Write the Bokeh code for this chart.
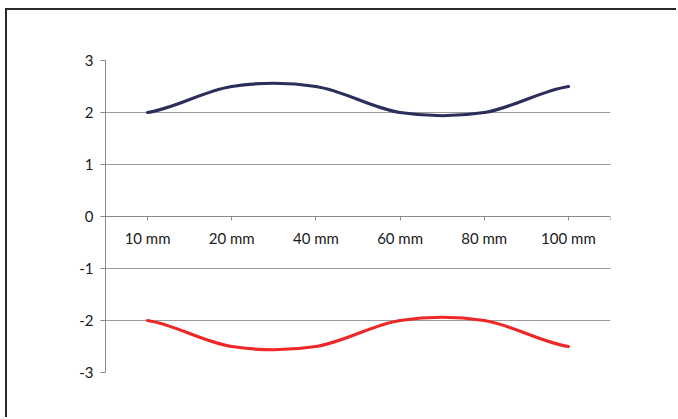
from bokeh.plotting import figure
from bokeh.models import Range1d, FixedTicker
from bokeh.embed import file_html
from bokeh.resources import INLINE

categories = ["10 mm", "20 mm", "40 mm", "60 mm", "80 mm", "100 mm"]
series_top = [2.0, 2.5, 2.5, 2.0, 2.0, 2.5]
series_bottom = [-2.0, -2.5, -2.5, -2.0, -2.0, -2.5]
y_ticks = [-3, -2, -1, 0, 1, 2, 3]
y_tick_labels = ["-3", "-2", "-1", "0", "1", "2", "3"]

FONT = "Lato"

p = figure(width=671, height=409, output_backend="svg", toolbar_location=None,
           x_range=Range1d(-0.5, len(categories) - 0.5), y_range=Range1d(-3, 3),
           min_border_left=98, min_border_right=68, min_border_top=50, min_border_bottom=47,
           outline_line_color=None, background_fill_color="white",
           styles={"border-left": "2px solid #2a2a2a", "border-top": "2px solid #2a2a2a",
                   "margin-left": "5px", "margin-top": "8px"})


def bezier_segments(ys):
    n = len(ys)
    m = []
    for i in range(n):
        a = ys[max(i - 1, 0)]
        b = ys[min(i + 1, n - 1)]
        m.append((b - a) / 2.0)
    x0, y0, x1, y1, cx0, cy0, cx1, cy1 = [], [], [], [], [], [], [], []
    for i in range(n - 1):
        x0.append(i); y0.append(ys[i])
        x1.append(i + 1); y1.append(ys[i + 1])
        cx0.append(i + 1 / 3); cy0.append(ys[i] + m[i] / 3)
        cx1.append(i + 1 - 1 / 3); cy1.append(ys[i + 1] - m[i + 1] / 3)
    return dict(x0=x0, y0=y0, x1=x1, y1=y1, cx0=cx0, cy0=cy0, cx1=cx1, cy1=cy1)


for ys, col in [(series_top, "#2b2d5b"), (series_bottom, "#ee2727")]:
    p.bezier(line_color=col, line_width=3.2, line_cap="round", **bezier_segments(ys))

# axes
p.xaxis.fixed_location = 0
p.xaxis.ticker = FixedTicker(ticks=list(range(len(categories))) + [len(categories) - 0.5])
p.xaxis.major_label_overrides = {**{i: c for i, c in enumerate(categories)}, len(categories) - 0.5: ""}
p.xaxis.minor_tick_line_color = None
p.xaxis.axis_line_color = "#8a8a8a"
p.xaxis.major_tick_line_color = "#8a8a8a"
p.xaxis.major_tick_in = 0
p.xaxis.major_tick_out = 4
p.xaxis.major_label_standoff = 8
p.xaxis.major_label_text_font = FONT
p.xaxis.major_label_text_font_size = "15px"
p.xaxis.major_label_text_color = "#1a1a1a"

p.yaxis.ticker = FixedTicker(ticks=y_ticks)
p.yaxis.major_label_overrides = {t: s for t, s in zip(y_ticks, y_tick_labels)}
p.yaxis.minor_tick_line_color = None
p.yaxis.axis_line_color = "#8a8a8a"
p.yaxis.major_tick_line_color = "#8a8a8a"
p.yaxis.major_tick_in = 0
p.yaxis.major_tick_out = 5
p.yaxis.major_label_standoff = 7
p.yaxis.major_label_text_font = FONT
p.yaxis.major_label_text_font_size = "15px"
p.yaxis.major_label_text_color = "#1a1a1a"

p.xgrid.visible = False
p.ygrid.ticker = FixedTicker(ticks=[t for t in y_ticks if t != 0])
p.ygrid.grid_line_color = "#9a9a9a"
p.ygrid.grid_line_width = 1

open("out.html", "w").write(file_html(p, INLINE))
